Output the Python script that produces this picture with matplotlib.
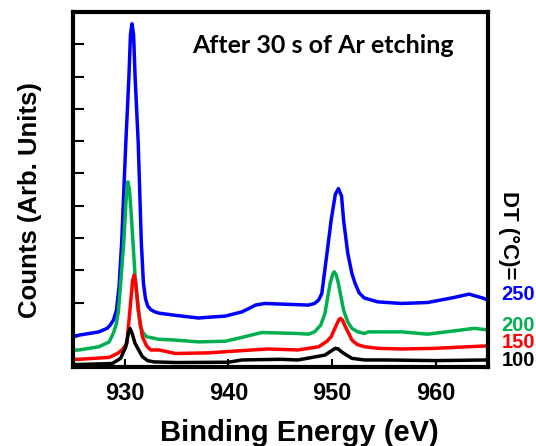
import matplotlib
matplotlib.use("Agg")
import matplotlib.pyplot as plt

# 값은 그림에서 읽은 추정치 (Binding Energy eV, Counts arb.)
x_250 = [925, 925.6, 927.5, 928.3, 928.6, 928.9, 929.2, 929.45, 929.7, 930.1, 930.4,
         930.55, 930.7, 930.85, 931.0, 931.3, 931.6, 931.8, 932.0, 932.2, 932.5,
         932.9, 933.3, 934.7, 937.1, 939.7, 941.3, 942.0, 942.6, 943.5, 946.1, 947.7,
         948.3, 948.7, 949.0, 949.5, 949.9, 950.3, 950.6, 950.9, 951.1, 951.5,
         951.9, 952.2, 952.6, 953.1, 954.4, 956.7, 959.2, 961.5, 963.2, 964.5, 965]
y_250 = [0.93, 0.99, 1.09, 1.2, 1.3, 1.45, 1.76, 2.5, 3.84, 6.93, 8.98,
         10.3, 10.64, 10.3, 8.98, 6.93, 3.84, 2.6, 2.12, 1.9, 1.78,
         1.71, 1.67, 1.61, 1.52, 1.58, 1.71, 1.82, 1.92, 1.97, 1.94, 1.92,
         1.97, 2.08, 2.28, 3.53, 4.55, 5.35, 5.53, 5.3, 4.55, 3.53,
         2.9, 2.6, 2.3, 2.14, 2.02, 1.97, 2.0, 2.14, 2.26, 2.14, 2.08]

x_200 = [925, 925.6, 927.5, 928.5, 928.9, 929.2, 929.4, 929.9, 930.15, 930.3, 930.45,
         930.6, 931.0, 931.5, 931.8, 932.1, 933.3, 934.7, 937.1, 939.7, 941.3, 943.2,
         946.7, 947.7, 948.3, 948.9, 949.3, 949.8, 950.05, 950.2, 950.4, 950.6,
         951.1, 951.5, 951.9, 952.4, 953.1, 953.5, 956.7, 959.2, 961.5, 963.7,
         964.5, 965]
y_200 = [0.52, 0.53, 0.63, 0.78, 1.05, 1.35, 1.76, 3.84, 5.3, 5.74, 5.5,
         4.86, 2.8, 1.25, 1.05, 0.94, 0.86, 0.84, 0.78, 0.80, 0.92, 1.07,
         1.04, 1.02, 1.09, 1.3, 1.66, 2.59, 2.88, 2.95, 2.85, 2.59,
         1.76, 1.4, 1.2, 1.1, 1.04, 1.09, 1.09, 1.02, 1.11, 1.2,
         1.17, 1.15]

x_150 = [925, 925.6, 928.5, 929.3, 929.8, 930.2, 930.5, 930.75, 930.9, 931.05, 931.3,
         931.7, 932.1, 932.5, 933.3, 934.9, 938.1, 941.3, 943.8, 946.7, 948.7,
         949.5, 949.9, 950.4, 950.65, 950.8, 951.0, 951.2, 951.9, 952.4, 953.1,
         954.4, 956.7, 959.9, 964.5, 965]
y_150 = [0.24, 0.24, 0.3, 0.42, 0.55, 0.73, 1.76, 2.65, 2.85, 2.6, 1.76,
         0.94, 0.66, 0.53, 0.53, 0.42, 0.44, 0.51, 0.56, 0.53, 0.63,
         0.8, 0.94, 1.3, 1.47, 1.51, 1.45, 1.3, 0.84, 0.7, 0.63,
         0.58, 0.56, 0.58, 0.65, 0.65]

x_100 = [925, 925.6, 928.8, 929.6, 930.1, 930.35, 930.5, 930.7, 931.0, 931.7, 932.2,
         932.8, 935, 940, 941.3, 945, 946.7, 949.3, 950.0, 950.3, 950.6, 950.9,
         951.9, 953.1, 955.1, 960, 965]
y_100 = [0.08, 0.08, 0.11, 0.27, 0.63, 1.05, 1.2, 1.05, 0.73, 0.32, 0.2,
         0.16, 0.14, 0.15, 0.22, 0.24, 0.22, 0.37, 0.52, 0.58, 0.56, 0.47,
         0.27, 0.22, 0.22, 0.2, 0.22]

labels = ["250", "200", "150", "100"]
colors = ["#0000ff", "#00b050", "#ff0000", "#000000"]
xticks = [930, 940, 950, 960]

fig = plt.figure(figsize=(5.36, 4.46), dpi=100)
ax = fig.add_axes([0.136, 0.177, 0.774, 0.796])

series = [(x_250, y_250), (x_200, y_200), (x_150, y_150), (x_100, y_100)]
for (xs, ys), c in zip(series, colors):
    ax.plot(xs, ys, color=c, lw=2.5, solid_joinstyle="round")

ax.set_xlim(925, 965)
ax.set_ylim(0, 11)
ax.set_xticks(xticks)
ax.set_yticks(range(0, 11))
ax.set_yticklabels([])
ax.tick_params(axis="x", direction="in", length=6, width=1.5, pad=11,
               labelsize=17)
ax.tick_params(axis="y", direction="in", length=8, width=1.5)
for lab in ax.get_xticklabels():
    lab.set_fontweight("bold")
    lab.set_fontfamily("Liberation Sans")
for sp in ax.spines.values():
    sp.set_linewidth(3)

ax.set_xlabel("Binding Energy (eV)", fontsize=21, fontweight="bold",
              family="Liberation Sans")
ax.xaxis.set_label_coords(0.547, -0.145)
ax.set_ylabel("Counts (Arb. Units)", fontsize=18.5, fontweight="bold",
              family="Liberation Sans")
ax.yaxis.set_label_coords(-0.075, 0.47)

ax.text(0.288, 0.905, "After 30 s of Ar etching", transform=ax.transAxes,
        fontsize=18, fontweight="bold", family="Lato", va="center")

# 오른쪽 온도 표시
fig.text(0.948, 0.473, "DT (\u00b0C)=", rotation=-90, fontsize=16,
         fontweight="bold", family="Liberation Sans", ha="center", va="center")
ypos = [0.339, 0.271, 0.232, 0.192]
for lab, c, yy in zip(labels, colors, ypos):
    fig.text(0.936, yy, lab, color=c, fontsize=14.5, fontweight="bold",
             family="Liberation Sans", va="center")

fig.savefig("out.png", dpi=100)
